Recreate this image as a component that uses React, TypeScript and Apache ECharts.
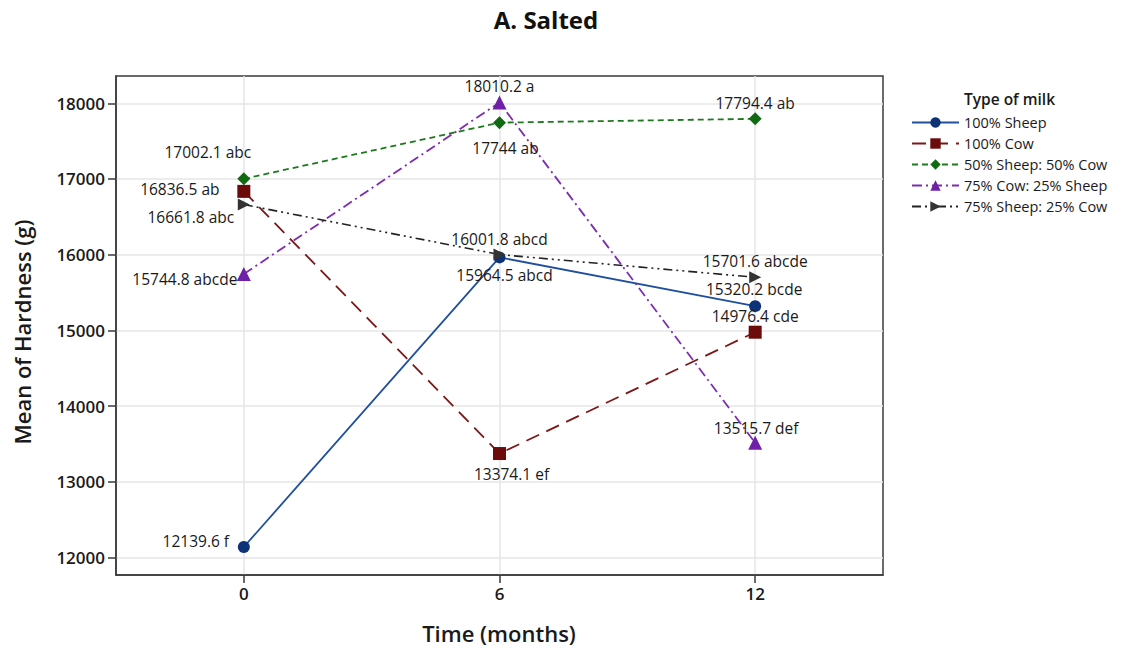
import React, { useEffect, useRef } from "react";
import * as echarts from "echarts";

// ---------- data ----------
const timeMonths = [0, 6, 12];
const xTickValues = [0, 6, 12];
const yTickValues = [12000, 13000, 14000, 15000, 16000, 17000, 18000];

const seriesNames = [
  "100% Sheep",
  "100% Cow",
  "50% Sheep: 50% Cow",
  "75% Cow: 25% Sheep",
  "75% Sheep: 25% Cow",
];

const sheep100 = [12139.6, 15964.5, 15320.2];
const sheep100Letters = ["f", "abcd", "bcde"];
const cow100 = [16836.5, 13374.1, 14976.4];
const cow100Letters = ["ab", "ef", "cde"];
const sheep50cow50 = [17002.1, 17744, 17794.4];
const sheep50cow50Letters = ["abc", "ab", "ab"];
const cow75sheep25 = [15744.8, 18010.2, 13515.7];
const cow75sheep25Letters = ["abcde", "a", "def"];
const sheep75cow25 = [16661.8, 16001.8, 15701.6];
const sheep75cow25Letters = ["abc", "abcd", "abcde"];

// ---------- styles (label offsets in px relative to the marker) ----------
const offsSheep100 = [[-48, -6], [5, 18], [-1, -17]];
const offsCow100 = [[-64, -2], [12, 20], [0, -16]];
const offsS50 = [[-36, -27], [6, 25], [0, -16]];
const offsC75 = [[-59, 5], [0, -16], [1, -15]];
const offsS75 = [[-53, 12], [0, -16], [0, -16]];

const FONT = '"Open Sans", "Noto Sans", sans-serif';

const arrowPath = "path://M0,0 L12,6 L0,12 Z";

function buildSeries(
  name: string,
  values: number[],
  letters: string[],
  offs: number[][],
  lineColor: string,
  markColor: string,
  symbol: string,
  symbolSize: number,
  dash: any,
  width: number
) {
  return {
    name,
    type: "line",
    symbol,
    symbolSize,
    z: 3,
    lineStyle: { color: lineColor, width, type: dash },
    itemStyle: { color: markColor, borderColor: markColor, borderWidth: 0 },
    data: values.map((v, i) => ({
      value: [timeMonths[i], v],
      label: {
        show: true,
        position: "inside",
        offset: offs[i],
        align: "center",
        verticalAlign: "middle",
        formatter: `${v} ${letters[i]}`,
        fontFamily: FONT,
        fontSize: 15.5,
        color: "#1a1a1a",
      },
    })),
  };
}

export default function App() {
  const ref = useRef<HTMLDivElement>(null);

  useEffect(() => {
    if (!ref.current) return;
    const chart = echarts.init(ref.current, undefined, { renderer: "svg" });

    const series: any[] = [
      buildSeries(seriesNames[0], sheep100, sheep100Letters, offsSheep100, "#1f4f9e", "#0d3277", "circle", 12, "solid", 1.8),
      buildSeries(seriesNames[1], cow100, cow100Letters, offsCow100, "#7b1717", "#6b0b0b", "rect", 13, [14, 8], 1.8),
      buildSeries(seriesNames[2], sheep50cow50, sheep50cow50Letters, offsS50, "#1c7a1c", "#0f6a12", "diamond", 13, [6, 4], 1.8),
      buildSeries(seriesNames[3], cow75sheep25, cow75sheep25Letters, offsC75, "#7d2cb2", "#7020a8", "triangle", 14, [10, 4, 2, 4], 1.8),
      buildSeries(seriesNames[4], sheep75cow25, sheep75cow25Letters, offsS75, "#222222", "#333333", arrowPath, 12, [9, 4, 2, 4, 2, 4], 1.6),
    ];

    chart.setOption({
      animation: false,
      backgroundColor: "#ffffff",
      grid: {
        left: 116,
        right: 238,
        top: 76,
        bottom: 75,
        show: true,
        borderColor: "#3a3a3a",
        borderWidth: 1.5,
      },
      xAxis: {
        type: "value",
        min: -3,
        max: 15,
        axisLine: { show: true, onZero: false, lineStyle: { color: "#3a3a3a", width: 1.5 } },
        axisTick: {
          show: true,
          customValues: xTickValues,
          length: 8,
          lineStyle: { color: "#3a3a3a", width: 1.5 },
        },
        axisLabel: {
          customValues: xTickValues,
          margin: 10,
          fontFamily: FONT,
          fontWeight: 600,
          fontSize: 17,
          color: "#1a1a1a",
          formatter: (v: number) => String(v),
        },
        splitLine: { show: true, lineStyle: { color: "#e6e6e6", width: 1.5 } },
      },
      yAxis: {
        type: "value",
        min: 11770,
        max: 18360,
        axisLine: { show: true, onZero: false, lineStyle: { color: "#3a3a3a", width: 1.5 } },
        axisTick: {
          show: true,
          customValues: yTickValues,
          length: 8,
          lineStyle: { color: "#3a3a3a", width: 1.5 },
        },
        axisLabel: {
          customValues: yTickValues,
          margin: 11,
          fontFamily: FONT,
          fontWeight: 600,
          fontSize: 17,
          color: "#1a1a1a",
          formatter: (v: number) => String(v),
        },
        splitLine: { show: true, lineStyle: { color: "#e6e6e6", width: 1.5 } },
      },
      legend: {
        orient: "vertical",
        left: 906,
        top: 110,
        itemWidth: 47,
        itemHeight: 13,
        itemGap: 6,
        data: seriesNames,
        textStyle: {
          fontFamily: FONT,
          fontSize: 14.5,
          color: "#1a1a1a",
          lineHeight: 13,
        },
      },
      graphic: [
        {
          type: "text",
          x: 546,
          y: 19,
          style: {
            text: "A. Salted",
            fontFamily: FONT,
            fontWeight: "bold",
            fontSize: 24,
            fill: "#111",
            align: "center",
            verticalAlign: "middle",
          },
        },
        {
          type: "text",
          x: 499,
          y: 633,
          style: {
            text: "Time (months)",
            fontFamily: FONT,
            fontWeight: 600,
            fontSize: 22,
            fill: "#1a1a1a",
            align: "center",
            verticalAlign: "middle",
          },
        },
        {
          type: "text",
          x: 22,
          y: 332,
          rotation: Math.PI / 2,
          style: {
            text: "Mean of Hardness (g)",
            fontFamily: FONT,
            fontWeight: 600,
            fontSize: 22,
            fill: "#1a1a1a",
            align: "center",
            verticalAlign: "middle",
          },
        },
        {
          type: "text",
          x: 964,
          y: 99,
          style: {
            text: "Type of milk",
            fontFamily: FONT,
            fontWeight: 600,
            fontSize: 15.5,
            fill: "#1a1a1a",
            align: "left",
            verticalAlign: "middle",
          },
        },
      ],
      series,
    });

    return () => chart.dispose();
  }, []);

  return (
    <div
      ref={ref}
      style={{ width: 1121, height: 650, position: "absolute", left: 0, top: 0 }}
    />
  );
}
